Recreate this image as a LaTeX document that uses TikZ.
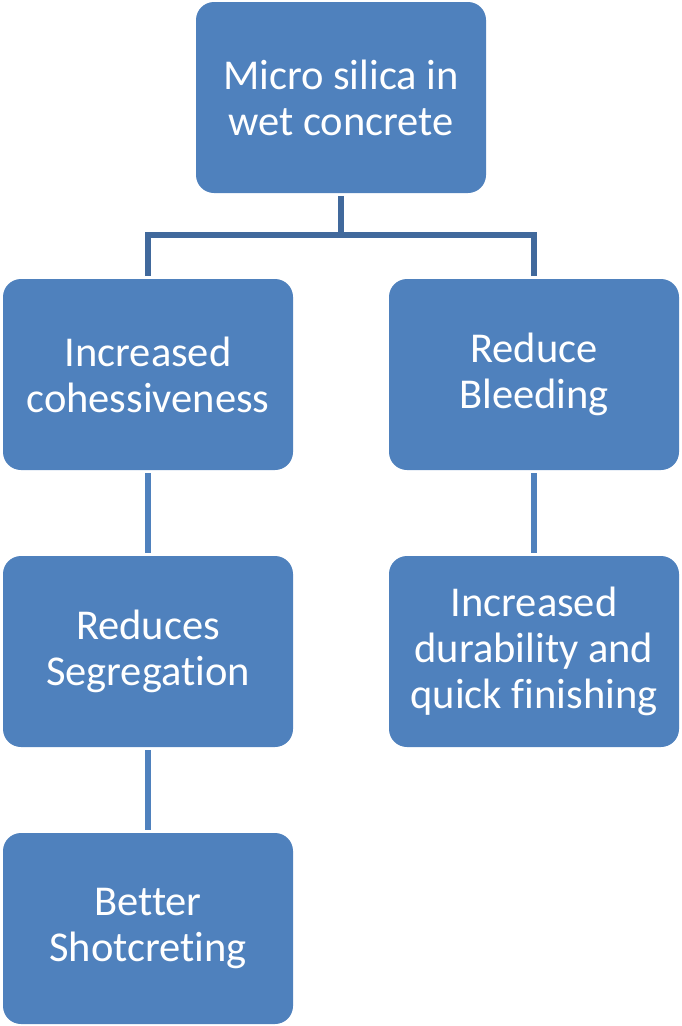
\documentclass[tikz,border=0pt]{standalone}
\usepackage{fontspec}
\setmainfont[Ligatures={NoCommon}]{Carlito}
\definecolor{boxblue}{HTML}{4F81BD}
\definecolor{linkblue}{HTML}{41699C}
\tikzset{
  card/.style={fill=boxblue, rounded corners=18pt, minimum width=290pt, minimum height=191pt,
    text=white, align=center, font=\fontsize{42.5}{46}\selectfont, inner sep=0pt},
  elbow/.style={draw=linkblue, line width=5.5pt},
  stem/.style={draw=boxblue, line width=6pt, shorten <=3pt, shorten >=3pt}
}
\begin{document}
\begin{tikzpicture}[x=1pt, y=-1pt]
    \useasboundingbox (0, 0) rectangle (681, 1026);

    \node[card] (silica) at (341, 97.5) {Micro silica in\\wet concrete};

    \node[card] (cohes) at (148, 374.5) {Increased\\cohessiveness};
    \node[card] (bleed) at (534, 374.5) {Reduce\\Bleeding};

    \node[card] (segr) at (148, 651.5) {Reduces\\Segregation};
    \node[card] (durab) at (534, 651.5) {Increased\\durability and\\quick finishing};

    \node[card] (shot) at (148, 928.5) {Better\\Shotcreting};

    \coordinate (split) at (341, 235);
    \draw[elbow] ([yshift=-3pt]silica.south) -- (split) -| ([yshift=3pt]cohes.north);
    \draw[elbow] (split) -| ([yshift=3pt]bleed.north);

    \draw[stem] (cohes) -- (segr);
    \draw[stem] (segr) -- (shot);
    \draw[stem] (bleed) -- (durab);
  \end{tikzpicture}
\end{document}
